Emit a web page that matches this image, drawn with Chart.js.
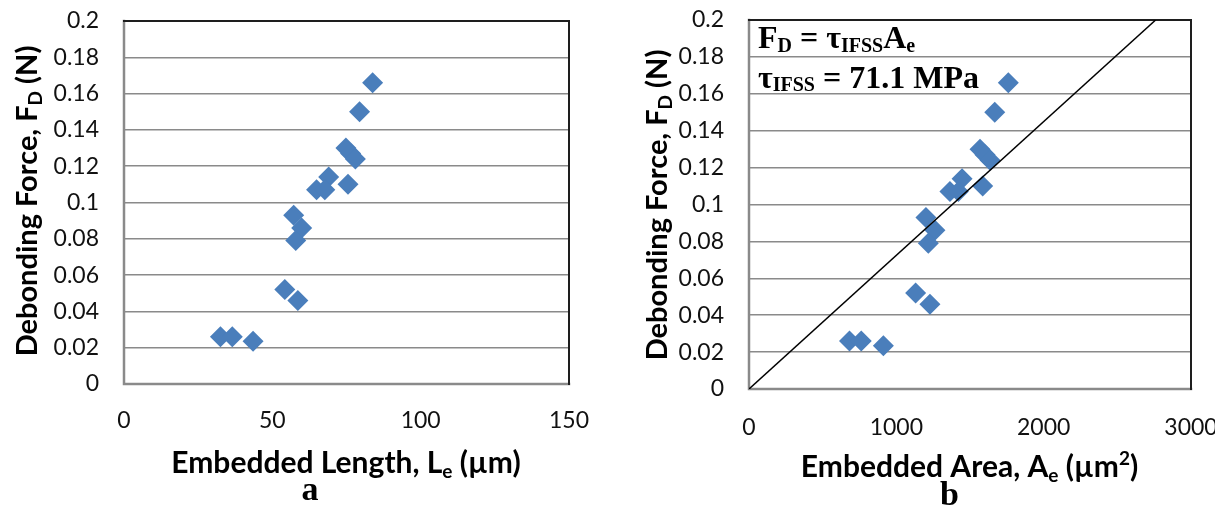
<!DOCTYPE html>
<html><head><meta charset="utf-8">
<script src="https://cdn.jsdelivr.net/npm/chart.js@4.4.1/dist/chart.umd.min.js"></script>
<style>
html,body{margin:0;padding:0;background:#fff;}
#wrap{position:relative;width:1215px;height:508px;overflow:hidden;background:#fff;}
#c1{position:absolute;left:0;top:0;width:600px;height:508px;}
#c2{position:absolute;left:600px;top:0;width:615px;height:508px;}
</style></head><body>
<div id="wrap"><canvas id="c1" width="600" height="508"></canvas><canvas id="c2" width="615" height="508"></canvas></div>
<script>
// ---- data ----
const debondingForce = [0.166, 0.150, 0.130, 0.127, 0.124, 0.114, 0.107, 0.107, 0.110, 0.093, 0.086, 0.079, 0.052, 0.046, 0.026, 0.026, 0.0235];
const embeddedLength = [83.8, 79.4, 74.8, 76.4, 78.0, 69.0, 64.9, 67.7, 75.5, 57.2, 59.9, 57.9, 54.2, 58.6, 32.5, 36.5, 43.5];
const embeddedArea   = [1760, 1668, 1568, 1602, 1636, 1446, 1364, 1421, 1586, 1201, 1262, 1217, 1131, 1228, 682, 762, 912];
const fitLineArea  = [0, 2760];
const fitLineForce = [0, 0.2];
const yTicks = [0, 0.02, 0.04, 0.06, 0.08, 0.1, 0.12, 0.14, 0.16, 0.18, 0.2];
const xTicksLength = [0, 50, 100, 150];
const xTicksArea = [0, 1000, 2000, 3000];

const BLUE = '#4A7EBB';
const SANS = 'Lato, "Open Sans", sans-serif';
const SERIF = '"Liberation Serif", "Times New Roman", serif';

function drawRich(ctx, item) {
  ctx.save();
  ctx.translate(item.x, item.y);
  if (item.rotate) ctx.rotate(item.rotate);
  ctx.textBaseline = 'alphabetic';
  ctx.textAlign = 'left';
  ctx.fillStyle = '#000';
  let total = 0;
  item.segs.forEach(s => { ctx.font = s.font; s.w = ctx.measureText(s.text).width; total += s.w; });
  let cx = item.align === 'left' ? 0 : -total / 2;
  item.segs.forEach(s => { ctx.font = s.font; ctx.fillText(s.text, cx, s.dy || 0); cx += s.w; });
  ctx.restore();
}

function decorPlugin(items) {
  return {
    id: 'decor',
    beforeDatasetsDraw(chart) {
      const {ctx, chartArea: a} = chart;
      ctx.save();
      ctx.lineCap = 'square';
      ctx.strokeStyle = '#8a8a8a';
      ctx.lineWidth = 2.5;
      ctx.beginPath();
      ctx.moveTo(a.left, a.top); ctx.lineTo(a.left, a.bottom); ctx.lineTo(a.right, a.bottom);
      ctx.stroke();
      ctx.strokeStyle = '#1e1e1e';
      ctx.lineWidth = 2;
      ctx.beginPath();
      ctx.moveTo(a.left, a.top); ctx.lineTo(a.right, a.top); ctx.lineTo(a.right, a.bottom);
      ctx.stroke();
      ctx.restore();
    },
    afterDraw(chart) {
      items.forEach(it => drawRich(chart.ctx, it));
    }
  };
}

function makeOptions(xMax, xTicks, yAxisWidth, xAxisHeight, pad, xPad, yPad) {
  return {
    responsive: false,
    animation: false,
    devicePixelRatio: 1,
    layout: { padding: pad },
    plugins: { legend: { display: false }, tooltip: { enabled: false } },
    scales: {
      x: {
        type: 'linear', min: 0, max: xMax,
        afterBuildTicks: s => { s.ticks = xTicks.map(v => ({ value: v })); },
        afterFit: s => { s.height = xAxisHeight; s.paddingLeft = 0; s.paddingRight = 0; },
        grid: { display: false, drawTicks: false },
        border: { display: false },
        ticks: { padding: xPad, color: '#111', maxRotation: 0, autoSkip: false,
                 font: { family: SANS, size: 23 }, callback: v => String(v) }
      },
      y: {
        type: 'linear', min: 0, max: 0.2,
        afterBuildTicks: s => { s.ticks = yTicks.map(v => ({ value: v })); },
        afterFit: s => { s.width = yAxisWidth; s.paddingTop = 0; s.paddingBottom = 0; },
        grid: { color: '#8a8a8a', lineWidth: 1.5, drawTicks: false },
        border: { display: false },
        ticks: { padding: yPad, color: '#111', autoSkip: false,
                 font: { family: SANS, size: 23 }, callback: v => String(v) }
      }
    }
  };
}

function yTitle(x, y) {
  return { x, y, rotate: -Math.PI / 2, segs: [
    { text: 'Debonding Force, F', font: 'bold 29px ' + SANS },
    { text: 'D', font: 'bold 19px ' + SANS, dy: 5 },
    { text: ' (N)', font: 'bold 29px ' + SANS }
  ]};
}

// ---- chart a ----
new Chart(document.getElementById('c1'), {
  type: 'scatter',
  data: { datasets: [{
    data: embeddedLength.map((v, i) => ({ x: v, y: debondingForce[i] })),
    pointStyle: 'rectRot', pointRadius: 10.5, backgroundColor: BLUE, borderColor: BLUE, borderWidth: 0
  }]},
  options: makeOptions(150, xTicksLength, 124, 124, { left: 0, top: 21, right: 31, bottom: 0 }, 23, 25),
  plugins: [decorPlugin([
    yTitle(37, 201),
    { x: 346, y: 473, segs: [
      { text: 'Embedded Length, L', font: 'bold 30px ' + SANS },
      { text: 'e', font: 'bold 19px ' + SANS, dy: 5 },
      { text: ' (µm)', font: 'bold 30px ' + SANS }
    ]},
    { x: 310, y: 500, segs: [{ text: 'a', font: 'bold 34px ' + SERIF }] }
  ])]
});

// ---- chart b ----
new Chart(document.getElementById('c2'), {
  type: 'scatter',
  data: { datasets: [
    { type: 'line', order: 0,
      data: fitLineArea.map((v, i) => ({ x: v, y: fitLineForce[i] })),
      borderColor: '#000', borderWidth: 1.5, pointRadius: 0, fill: false, tension: 0 },
    { order: 1,
      data: embeddedArea.map((v, i) => ({ x: v, y: debondingForce[i] })),
      pointStyle: 'rectRot', pointRadius: 10.5, backgroundColor: BLUE, borderColor: BLUE, borderWidth: 0 }
  ]},
  options: makeOptions(3000, xTicksArea, 149, 119, { left: 0, top: 20, right: 24, bottom: 0 }, 25, 25),
  plugins: [decorPlugin([
    yTitle(67, 205),
    { x: 369.5, y: 477, segs: [
      { text: 'Embedded Area, A', font: 'bold 30px ' + SANS },
      { text: 'e', font: 'bold 19px ' + SANS, dy: 5 },
      { text: ' (µm', font: 'bold 30px ' + SANS },
      { text: '2', font: 'bold 19px ' + SANS, dy: -12 },
      { text: ')', font: 'bold 30px ' + SANS }
    ]},
    { x: 349.5, y: 505, segs: [{ text: 'b', font: 'bold 34px ' + SERIF }] },
    { x: 158, y: 48, align: 'left', segs: [
      { text: 'F', font: 'bold 32px ' + SERIF },
      { text: 'D', font: 'bold 20px ' + SERIF, dy: 4 },
      { text: ' = τ', font: 'bold 32px ' + SERIF },
      { text: 'IFSS', font: 'bold 20px ' + SERIF, dy: 4 },
      { text: 'A', font: 'bold 32px ' + SERIF },
      { text: 'e', font: 'bold 20px ' + SERIF, dy: 4 }
    ]},
    { x: 158, y: 88, align: 'left', segs: [
      { text: 'τ', font: 'bold 32px ' + SERIF },
      { text: 'IFSS', font: 'bold 20px ' + SERIF, dy: 3 },
      { text: ' = 71.1 MPa', font: 'bold 32px ' + SERIF }
    ]}
  ])]
});
</script>
</body></html>
